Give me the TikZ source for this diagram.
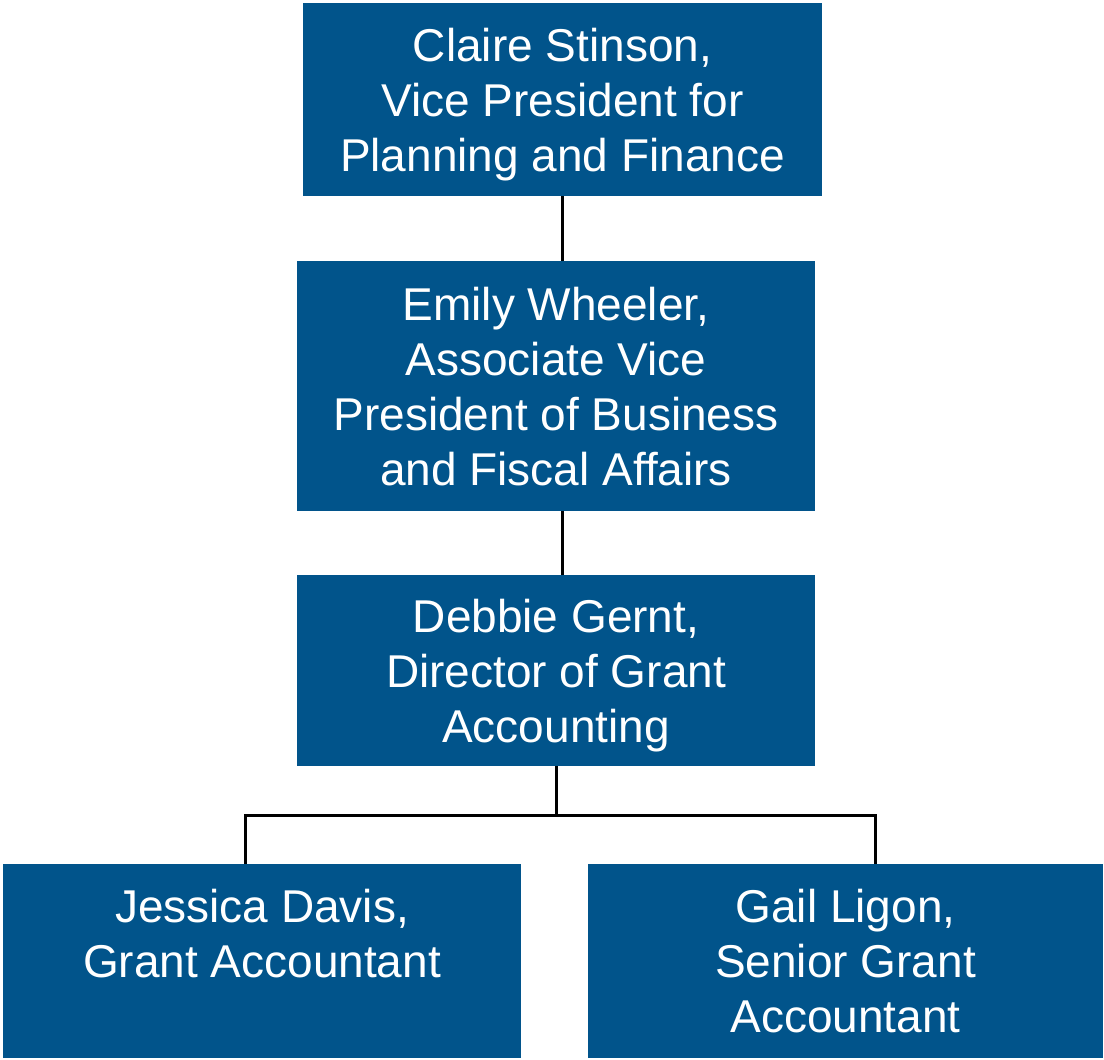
\documentclass[tikz,border=0pt]{standalone}
\usepackage{fontspec}
\setmainfont{Liberation Sans}
\definecolor{boxblue}{RGB}{1,84,139}
\begin{document}
\begin{tikzpicture}[x=1pt,y=1pt,
  orgbox/.style={fill=boxblue, text=white, inner sep=0pt, align=center,
    font=\fontsize{46}{55}\selectfont, text depth=0pt, minimum height=#1},
  link/.style={draw=black, line width=3pt}]
\useasboundingbox (0,0) rectangle (1104,-1060);
\node[orgbox=193pt, minimum width=519pt] (b1) at (562.5,-99.5) {Claire Stinson,\\Vice President for\\Planning and Finance};
\node[orgbox=250pt, minimum width=518pt] (b2) at (556,-386) {Emily Wheeler,\\Associate Vice\\President of Business\\and Fiscal Affairs};
\node[orgbox=191pt, minimum width=518pt] (b3) at (556,-670.5) {Debbie Gernt,\\Director of Grant\\Accounting};
\node[orgbox=194pt, minimum width=518pt] (b4) at (262,-961) {Jessica Davis,\\Grant Accountant\\\mbox{}};
\node[orgbox=194pt, minimum width=515pt] (b5) at (845.5,-961) {Gail Ligon,\\Senior Grant\\Accountant};
\coordinate (jl) at (245,-815);
\coordinate (gl) at (875,-815);
\draw[link] (b1.south) -- (b1.south |- b2.north);
\draw[link] (b1.south |- b2.south) -- (b1.south |- b3.north);
\draw[link] (b3.south) -- (b3.south |- jl);
\draw[link] (b4.north -| jl) -- (jl) -- (gl) -- (b5.north -| gl);
\end{tikzpicture}
\end{document}
